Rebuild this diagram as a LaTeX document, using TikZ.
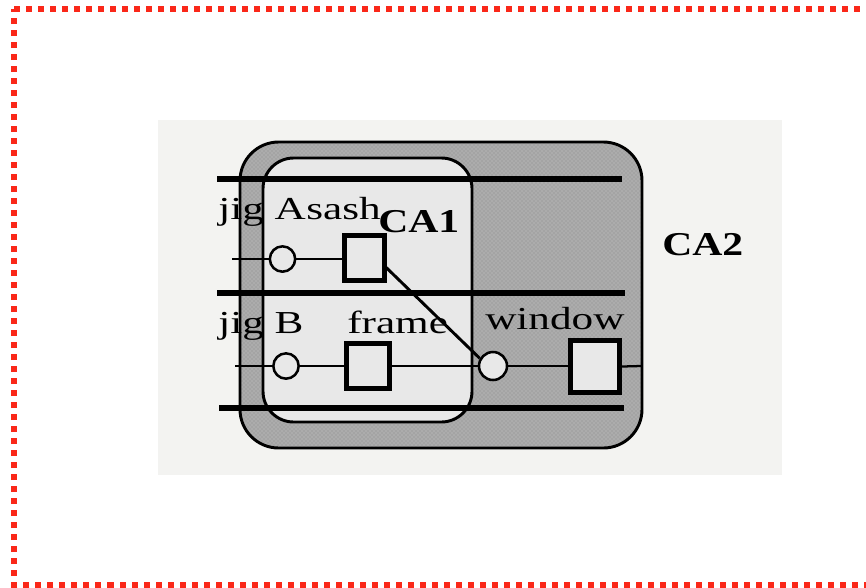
\documentclass[tikz,border=0pt]{standalone}
\usepackage{fontspec}
\setmainfont{Liberation Serif}
\newfontfamily\labfont[FakeStretch=1.35]{Liberation Serif}
\newfontfamily\calabfont[FakeStretch=1.25]{Liberation Serif}
\usetikzlibrary{calc,patterns}
\definecolor{framered}{RGB}{250,40,25}
\definecolor{scanbg}{RGB}{243,243,241}
\definecolor{innerbg}{RGB}{232,232,232}
\definecolor{bandgray}{RGB}{172,172,172}
\pgfdeclarelayer{bg}
\pgfsetlayers{bg,main}
\tikzset{
  lab/.style={font=\labfont\fontsize{24}{28}\selectfont, inner sep=0pt, anchor=base west},
  calab/.style={font=\calabfont\bfseries\fontsize{25}{29}\selectfont, inner sep=0pt, anchor=base west},
  port/.style={circle, draw=black, fill=innerbg, line width=1.9pt, minimum size=19pt, inner sep=0pt},
  part/.style={rectangle, draw=black, fill=innerbg, line width=3.75pt, inner sep=0pt},
  bus/.style={line width=4.2pt, black},
  wire/.style={line width=1.7pt, black},
  diag/.style={line width=2.2pt, black},
  redframe/.style={framered, line width=4.5pt, dash pattern=on 4.5pt off 4.5pt},
}
\begin{document}
\begin{tikzpicture}[x=0.75pt, y=-0.75pt]
\useasboundingbox (0,0) rectangle (866,587);
\begin{pgfonlayer}{bg}
  % scanned background
  \fill[scanbg] (158,120) rectangle (782,475);
  % CA2 region
  \fill[bandgray, rounded corners=29pt] (240,142) rectangle (642,448);
  \fill[pattern=crosshatch dots, pattern color=black!45, rounded corners=29pt] (240,142) rectangle (642,448);
  \draw[line width=2.2pt, rounded corners=29pt] (240,142) rectangle (642,448);
  % CA1 region
  \draw[line width=2.2pt, fill=innerbg, rounded corners=23pt] (263,158) rectangle (472,422);
  % thick bus lines
  \coordinate (b1l) at (217,179); \coordinate (b1r) at (622,179);
  \coordinate (b2l) at (217,293); \coordinate (b2r) at (625,293);
  \coordinate (b3l) at (219,408); \coordinate (b3r) at (624,408);
  \draw[bus] (b1l) -- (b1r);
  \draw[bus] (b2l) -- (b2r);
  \draw[bus] (b3l) -- (b3r);
\end{pgfonlayer}
% red dotted frame (right side lies beyond the picture)
\coordinate (fr1) at (14,9);
\coordinate (fr2) at (880,584.5);
\draw[redframe] (fr1) -- (fr1 -| fr2) -- (fr2) -- (fr2 -| fr1) -- cycle;
% labels
\node[lab] (tjiga) at (218,219) {jig A};
\node[lab] (tsash) at (306,219) {sash};
\node[calab] (tca1) at (378,232) {CA1};
\node[lab] (tjigb) at (218,333) {jig B};
\node[lab] (tframe) at (347,333) {frame};
\node[lab] (twindow) at (485,329) {window};
\node[calab] (tca2) at (662,255) {CA2};
% ports and parts
\node[port] (ca) at (282.5,259) {};
\node[port] (cb) at (286,366) {};
\node[port, minimum size=21pt] (cw) at (493,366) {};
\node[part, minimum width=30pt, minimum height=34pt] (ssash) at (364.5,258) {};
\node[part, minimum width=32pt, minimum height=34pt] (sframe) at (368,366) {};
\node[part, minimum width=37pt, minimum height=39pt] (swin) at (595,366.5) {};
\coordinate (stuba) at (232,259);
\coordinate (stubb) at (235,366);
\coordinate (stubw) at (641,366);
\begin{pgfonlayer}{bg}
  \draw[wire] (stuba) -- (ca.west);
  \draw[wire] (ca.east) -- (ca.east -| ssash.west);
  \draw[wire] (stubb) -- (cb.west);
  \draw[wire] (cb.east) -- (cb.east -| sframe.west);
  \draw[wire] (sframe.east) -- (sframe.east -| cw.west);
  \draw[wire] (cw.east) -- (cw.east -| swin.west);
  \draw[wire] (swin.east) -- (stubw);
  \draw[diag] ($(ssash.center)+(16,4)$) -- (cw.150);
\end{pgfonlayer}
\end{tikzpicture}
\end{document}
